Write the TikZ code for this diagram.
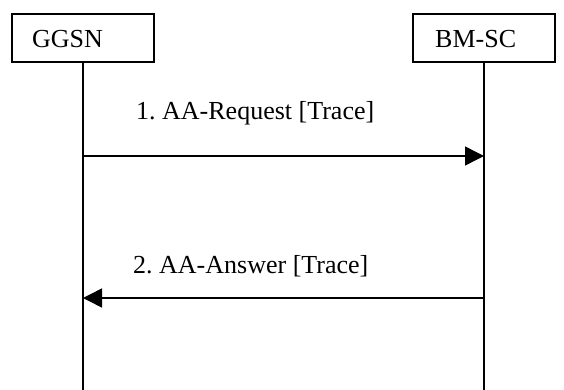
\documentclass[tikz,border=0pt]{standalone}
\usepackage{fontspec}
\setmainfont{Liberation Serif}
\usetikzlibrary{arrows.meta}
\frenchspacing
\begin{document}
\begin{tikzpicture}[x=1pt,y=-1pt,
  ent/.style={draw,line width=1.5pt,minimum width=142pt,minimum height=48pt,inner sep=0pt},
  lbl/.style={font=\fontsize{26}{30}\selectfont,inner sep=0pt,anchor=base west},
  life/.style={line width=1.5pt},
  msg/.style={line width=1.5pt,-{Triangle[length=19pt,width=19pt]}}]
\useasboundingbox (0,0) rectangle (564,390);
\node[ent] (ggsn) at (83,38) {};
\node[ent] (bmsc) at (484,38) {};
\node[lbl] (ggsnt) at (32,48) {GGSN};
\node[lbl] (bmsct) at (435,48) {BM-SC};
\coordinate (ggsnEnd) at (83,390);
\coordinate (bmscEnd) at (484,390);
\draw[life] (ggsn.south) -- (ggsnEnd);
\draw[life] (bmsc.south) -- (bmscEnd);
\coordinate (m1a) at (83,156);
\coordinate (m1b) at (484,156);
\coordinate (m2a) at (484,298);
\coordinate (m2b) at (83,298);
\draw[msg] (m1a) -- (m1b);
\draw[msg] (m2a) -- (m2b);
\node[lbl] (l1) at (136,120) {1.\ AA-Request [Trace]};
\node[lbl] (l2) at (133,273) {2.\ AA-Answer [Trace]};
\end{tikzpicture}
\end{document}
